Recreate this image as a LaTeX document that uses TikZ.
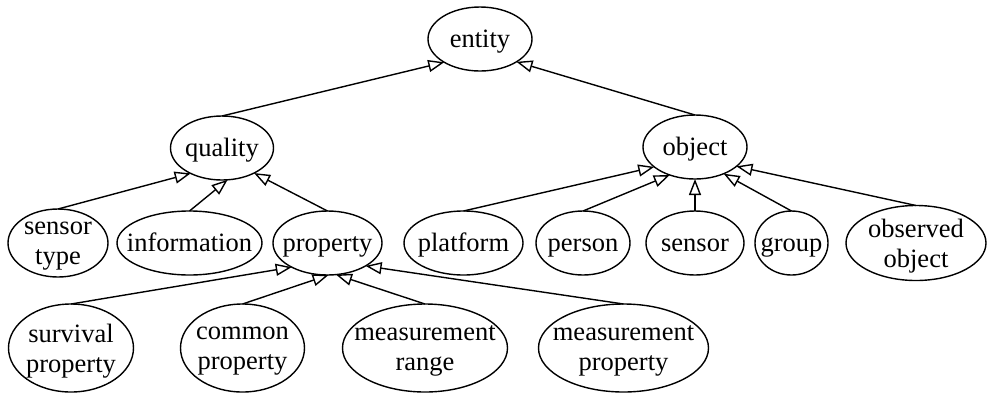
\documentclass[tikz,border=0pt]{standalone}
\usepackage{fontspec}
\setmainfont{Liberation Serif}
\usetikzlibrary{arrows.meta, positioning, shapes.geometric}
\tikzstyle{taxonomy}=[line width=1.4pt, >={Triangle[open,length=16pt,width=12pt]}]
\tikzstyle{concept}=[draw, ellipse, inner sep=0pt, outer sep=0pt, minimum height=64pt]
\tikzset{
  oneline/.style={label={[text height=21pt, text depth=5pt]center:#1}},
  twolines/.style={label={[align=center, yshift=-3pt]center:#1}}
}

\begin{document}
\begin{tikzpicture}[taxonomy, x=1pt, y=-1pt, font=\fontsize{26.5}{30}\selectfont]
  \useasboundingbox (0,0) rectangle (989,392);
  % upper levels
  \node[concept, minimum width=104pt, oneline=entity] (entity) at (480,39) {};
  \node[concept, minimum width=103pt, oneline=quality] (quality) at (222,148) {};
  \node[concept, minimum width=104pt, oneline=object] (object) at (695,147) {};
  % second row
  \node[concept, minimum width=100pt, minimum height=68pt, twolines=sensor\\type] (sensortype) at (58,243) {};
  \node[concept, minimum width=145pt, oneline=information] (information) [right=9pt of sensortype] {};
  \node[concept, minimum width=109pt, oneline=property] (property) [right=11pt of information] {};
  \node[concept, minimum width=119pt, oneline=platform] (platform) [right=22pt of property] {};
  \node[concept, minimum width=94pt, oneline=person] (person) [right=13pt of platform] {};
  \node[concept, minimum width=98pt, oneline=sensor] (sensor) [right=16pt of person] {};
  \node[concept, minimum width=73pt, oneline=group] (group) [right=11pt of sensor] {};
  \node[concept, minimum width=140pt, minimum height=75pt, twolines=observed\\object] (observed) [right=18pt of group] {};
  % third row, kinds of property
  \node[concept, minimum width=125pt, minimum height=88pt, twolines=survival\\property] (survival) at (71,348) {};
  \node[concept, minimum width=124pt, minimum height=88pt, twolines=common\\property] (common) [right=47pt of survival] {};
  \node[concept, minimum width=165pt, minimum height=88pt, twolines=measurement\\range] (range) [right=38pt of common] {};
  \node[concept, minimum width=170pt, minimum height=88pt, twolines=measurement\\property] (measprop) [right=31pt of range] {};
  % is-a links, child to parent
  \path[->] (quality.north) edge (entity.213);
  \path[->] (object.north) edge (entity.-32);
  \path[->] (sensortype.north) edge (quality.219);
  \path[->] (information.north) edge (quality.-80);
  \path[->] (property.north) edge (quality.-38);
  \path[->] (platform.north) edge (object.206);
  \path[->] (person.north) edge (object.228);
  \path[->] (sensor.north) edge (object.south);
  \path[->] (group.north) edge (object.-43);
  \path[->] (observed.north) edge (object.-25);
  \path[->] (survival.north) edge (property.214);
  \path[->] (common.north) edge (property.-88);
  \path[->] (range.north) edge (property.-75);
  \path[->] (measprop.north) edge (property.-31);
\end{tikzpicture}
\end{document}
